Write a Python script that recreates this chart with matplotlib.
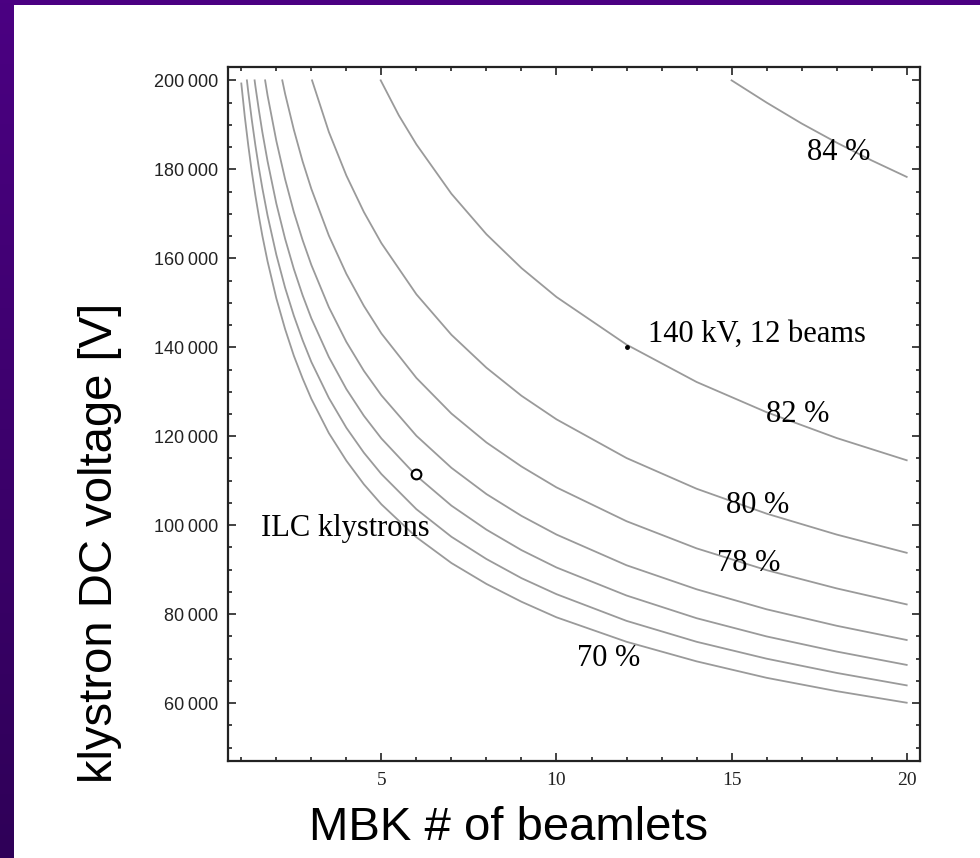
import matplotlib
matplotlib.use("Agg")
import matplotlib.pyplot as plt
import numpy as np
from matplotlib.ticker import FixedLocator, MultipleLocator
from matplotlib.colors import LinearSegmentedColormap

# efficiency contours: number of beamlets vs DC voltage
n_70 = [1, 1.1, 1.2, 1.3, 1.4, 1.5, 1.6, 1.75, 2, 2.25, 2.5, 2.75, 3, 3.5, 4, 4.5,
        5, 6, 7, 8, 9, 10, 12, 14, 16, 18, 20]
v_70 = [199300, 191800, 185300, 179400, 174200, 169500, 165100, 159300, 151000,
        144100, 138100, 133000, 128400, 120700, 114500, 109200, 104700, 97300,
        91500, 86800, 82800, 79300, 73800, 69400, 65700, 62700, 60100]

n_72 = [1.16, 1.2, 1.3, 1.4, 1.5, 1.6, 1.75, 2, 2.25, 2.5, 2.75, 3, 3.5, 4, 4.5,
        5, 6, 7, 8, 9, 10, 12, 14, 16, 18, 20]
v_72 = [200000, 197300, 191100, 185500, 180400, 175800, 169600, 160800, 153400,
        147100, 141600, 136700, 128600, 121900, 116300, 111500, 103600, 97400,
        92400, 88100, 84500, 78500, 73800, 70000, 66800, 64000]

n_74 = [1.38, 1.4, 1.5, 1.6, 1.75, 2, 2.25, 2.5, 2.75, 3, 3.5, 4, 4.5, 5, 6, 7, 8,
        9, 10, 12, 14, 16, 18, 20]
v_74 = [200000, 198800, 193400, 188400, 181800, 172300, 164400, 157600, 151700,
        146500, 137800, 130600, 124600, 119500, 111100, 104400, 99000, 94400,
        90500, 84200, 79100, 75000, 71600, 68600]

n_76 = [1.68, 1.75, 2, 2.25, 2.5, 2.75, 3, 3.5, 4, 4.5, 5, 6, 7, 8, 9, 10, 12, 14,
        16, 18, 20]
v_76 = [200000, 196600, 186400, 177800, 170400, 164100, 158500, 149000, 141200,
        134700, 129200, 120100, 112900, 107000, 102100, 97900, 91000, 85600,
        81100, 77400, 74200]

n_78 = [2.17, 2.25, 2.5, 2.75, 3, 3.5, 4, 4.5, 5, 6, 7, 8, 9, 10, 12, 14, 16, 18, 20]
v_78 = [200000, 197000, 188900, 181800, 175600, 165100, 156500, 149300, 143100,
        133100, 125100, 118600, 113200, 108500, 100900, 94800, 89900, 85800, 82200]

n_80 = [3.02, 3.5, 4, 4.5, 5, 6, 7, 8, 9, 10, 12, 14, 16, 18, 20]
v_80 = [200000, 188400, 178600, 170400, 163400, 151900, 142800, 135400, 129100,
        123800, 115100, 108200, 102600, 97900, 93800]

n_82 = [4.98, 5.5, 6, 7, 8, 9, 10, 12, 14, 16, 18, 20]
v_82 = [200000, 192100, 185600, 174500, 165400, 157800, 151300, 140600, 132200,
        125400, 119600, 114600]

n_84 = [15.0, 16, 17, 18, 19, 20]
v_84 = [200000, 195000, 190300, 186000, 182000, 178300]

curves_n = [n_70, n_72, n_74, n_76, n_78, n_80, n_82, n_84]
curves_v = [v_70, v_72, v_74, v_76, v_78, v_80, v_82, v_84]

# contour labels
label_text = ["84 %", "82 %", "80 %", "78 %", "70 %"]
label_n = [18.05, 16.9, 15.74, 15.49, 11.5]
label_v = [183800, 124800, 104500, 91400, 70100]

# marked design points
design_n = [12]
design_v = [140000]
design_text = "140 kV, 12 beams"
ilc_n = [6]
ilc_v = [111500]
ilc_text = "ILC klystrons"

x_ticks = [5, 10, 15, 20]
x_tick_labels = ["5", "10", "15", "20"]
y_ticks = [60000, 80000, 100000, 120000, 140000, 160000, 180000, 200000]
y_tick_labels = ["60\u2009000", "80\u2009000", "100\u2009000", "120\u2009000",
                 "140\u2009000", "160\u2009000", "180\u2009000", "200\u2009000"]

fig = plt.figure(figsize=(9.8, 8.58), dpi=100)
fig.patch.set_facecolor("white")

# purple slide frame (top bar + left strip with gradient)
top_ax = fig.add_axes([0, 1 - 5 / 858, 1, 5 / 858])
top_ax.set_axis_off()
top_ax.add_patch(plt.Rectangle((0, 0), 1, 1, color="#4b0082", transform=top_ax.transAxes))
strip_ax = fig.add_axes([0, 0, 13 / 980, 1])
grad = np.linspace(0, 1, 256).reshape(-1, 1)
strip_cmap = LinearSegmentedColormap.from_list("strip", ["#4b0082", "#2f0058"])
strip_ax.imshow(grad, aspect="auto", cmap=strip_cmap, origin="upper")
strip_ax.set_axis_off()

ax = fig.add_axes([228 / 980, 1 - 761 / 858, (920 - 228) / 980, (761 - 67) / 858])

for xs, ys in zip(curves_n, curves_v):
    ax.plot(xs, ys, color="#9a9a9a", lw=1.3, solid_joinstyle="round")

ax.plot(design_n, design_v, "o", ms=2.5, color="black")
ax.plot(ilc_n, ilc_v, "o", ms=7, mfc="white", mec="black", mew=1.5)

serif = ["Liberation Serif", "DejaVu Serif"]
for t, xx, yy in zip(label_text, label_n, label_v):
    ax.text(xx, yy, t, ha="center", va="center", fontsize=22, family=serif)
ax.text(design_n[0] + 0.62, design_v[0] + 2800, design_text, ha="left", va="center",
        fontsize=22, family=serif)
ax.text(3.96, 99300, ilc_text, ha="center", va="center", fontsize=22, family=serif)

ax.set_xlim(0.62, 20.38)
ax.set_ylim(47000, 203000)

ax.xaxis.set_major_locator(FixedLocator(x_ticks))
ax.set_xticklabels(x_tick_labels, family=serif, fontsize=14)
ax.xaxis.set_minor_locator(MultipleLocator(1))
ax.yaxis.set_major_locator(FixedLocator(y_ticks))
ax.set_yticklabels(y_tick_labels, family=["Liberation Sans", "DejaVu Sans"], fontsize=13)
ax.yaxis.set_minor_locator(MultipleLocator(5000))

ax.tick_params(which="both", direction="in", top=True, right=True, width=1.2, colors="#222222")
ax.tick_params(which="major", length=5.5)
ax.tick_params(which="minor", length=3)
ax.tick_params(axis="x", pad=8)
ax.tick_params(axis="y", pad=7)
for sp in ax.spines.values():
    sp.set_linewidth(1.6)
    sp.set_color("#222222")

sans = ["Liberation Sans", "DejaVu Sans"]
fig.text(509 / 980, 1 - 840 / 858, "MBK # of beamlets", ha="center", va="baseline",
         fontsize=34, family=sans)
fig.text(99.5 / 980, 1 - 543 / 858, "klystron DC voltage [V]", ha="center", va="center",
         rotation=90, fontsize=34, family=sans)

plt.savefig("out.png", dpi=100)
